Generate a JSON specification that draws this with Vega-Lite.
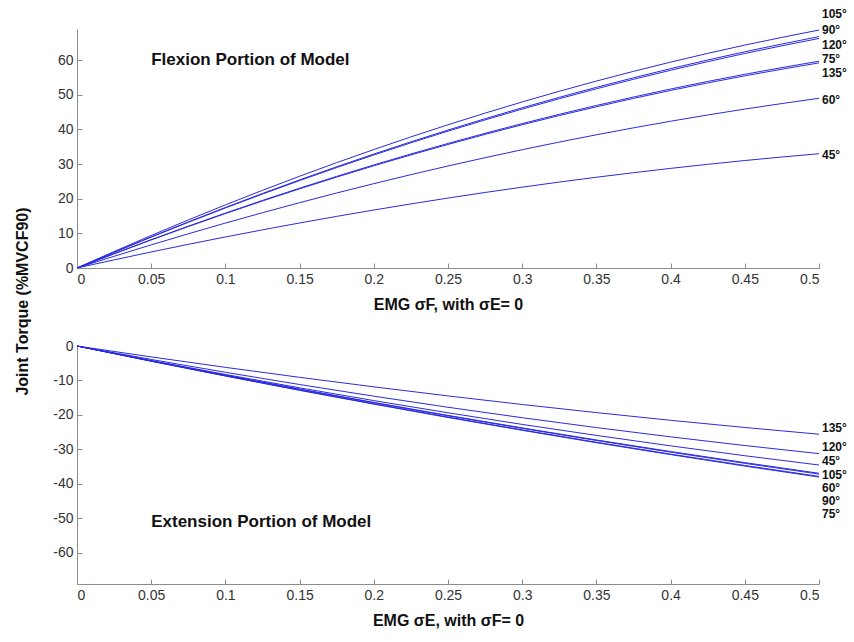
{
  "$schema": "https://vega.github.io/schema/vega-lite/v6.json",
  "background": "white",
  "padding": {"left": 14, "top": 8, "right": 2, "bottom": 2},
  "bounds": "flush",
  "spacing": 78,
  "config": {
    "view": {"stroke": null},
    "axis": {
      "domainColor": "#8c8c8c", "tickColor": "#8c8c8c", "tickSize": -5,
      "labelColor": "#333333", "labelFont": "Liberation Sans", "labelFontSize": 14,
      "titleFont": "Liberation Sans", "titleFontSize": 16, "titleFontWeight": "bold", "titleColor": "#111111",
      "grid": false, "labelPadding": 9, "labelOverlap": false
    },
    "text": {"font": "Liberation Sans", "color": "#111111"}
  },
  "datasets": {
    "flex": [
      {"angle": "105", "emg": 0, "torque": 0}, {"angle": "105", "emg": 0.05, "torque": 9.39}, {"angle": "105", "emg": 0.1, "torque": 18.22}, {"angle": "105", "emg": 0.15, "torque": 26.49}, {"angle": "105", "emg": 0.2, "torque": 34.2}, {"angle": "105", "emg": 0.25, "torque": 41.35}, {"angle": "105", "emg": 0.3, "torque": 47.94}, {"angle": "105", "emg": 0.35, "torque": 53.97}, {"angle": "105", "emg": 0.4, "torque": 59.44}, {"angle": "105", "emg": 0.45, "torque": 64.35}, {"angle": "105", "emg": 0.5, "torque": 68.7},
      {"angle": "90", "emg": 0, "torque": 0}, {"angle": "90", "emg": 0.05, "torque": 8.99}, {"angle": "90", "emg": 0.1, "torque": 17.47}, {"angle": "90", "emg": 0.15, "torque": 25.44}, {"angle": "90", "emg": 0.2, "torque": 32.89}, {"angle": "90", "emg": 0.25, "torque": 39.83}, {"angle": "90", "emg": 0.3, "torque": 46.25}, {"angle": "90", "emg": 0.35, "torque": 52.16}, {"angle": "90", "emg": 0.4, "torque": 57.55}, {"angle": "90", "emg": 0.45, "torque": 62.43}, {"angle": "90", "emg": 0.5, "torque": 66.8},
      {"angle": "120", "emg": 0, "torque": 0}, {"angle": "120", "emg": 0.05, "torque": 8.92}, {"angle": "120", "emg": 0.1, "torque": 17.33}, {"angle": "120", "emg": 0.15, "torque": 25.24}, {"angle": "120", "emg": 0.2, "torque": 32.63}, {"angle": "120", "emg": 0.25, "torque": 39.51}, {"angle": "120", "emg": 0.3, "torque": 45.88}, {"angle": "120", "emg": 0.35, "torque": 51.74}, {"angle": "120", "emg": 0.4, "torque": 57.09}, {"angle": "120", "emg": 0.45, "torque": 61.93}, {"angle": "120", "emg": 0.5, "torque": 66.27},
      {"angle": "75", "emg": 0, "torque": 0}, {"angle": "75", "emg": 0.05, "torque": 8.17}, {"angle": "75", "emg": 0.1, "torque": 15.85}, {"angle": "75", "emg": 0.15, "torque": 23.04}, {"angle": "75", "emg": 0.2, "torque": 29.75}, {"angle": "75", "emg": 0.25, "torque": 35.96}, {"angle": "75", "emg": 0.3, "torque": 41.69}, {"angle": "75", "emg": 0.35, "torque": 46.92}, {"angle": "75", "emg": 0.4, "torque": 51.67}, {"angle": "75", "emg": 0.45, "torque": 55.93}, {"angle": "75", "emg": 0.5, "torque": 59.7},
      {"angle": "135", "emg": 0, "torque": 0}, {"angle": "135", "emg": 0.05, "torque": 8.1}, {"angle": "135", "emg": 0.1, "torque": 15.72}, {"angle": "135", "emg": 0.15, "torque": 22.86}, {"angle": "135", "emg": 0.2, "torque": 29.51}, {"angle": "135", "emg": 0.25, "torque": 35.67}, {"angle": "135", "emg": 0.3, "torque": 41.36}, {"angle": "135", "emg": 0.35, "torque": 46.54}, {"angle": "135", "emg": 0.4, "torque": 51.26}, {"angle": "135", "emg": 0.45, "torque": 55.48}, {"angle": "135", "emg": 0.5, "torque": 59.22},
      {"angle": "60", "emg": 0, "torque": 0}, {"angle": "60", "emg": 0.05, "torque": 6.68}, {"angle": "60", "emg": 0.1, "torque": 12.97}, {"angle": "60", "emg": 0.15, "torque": 18.86}, {"angle": "60", "emg": 0.2, "torque": 24.35}, {"angle": "60", "emg": 0.25, "torque": 29.45}, {"angle": "60", "emg": 0.3, "torque": 34.15}, {"angle": "60", "emg": 0.35, "torque": 38.46}, {"angle": "60", "emg": 0.4, "torque": 42.37}, {"angle": "60", "emg": 0.45, "torque": 45.88}, {"angle": "60", "emg": 0.5, "torque": 49.0},
      {"angle": "45", "emg": 0, "torque": 0}, {"angle": "45", "emg": 0.05, "torque": 4.63}, {"angle": "45", "emg": 0.1, "torque": 8.96}, {"angle": "45", "emg": 0.15, "torque": 13.0}, {"angle": "45", "emg": 0.2, "torque": 16.74}, {"angle": "45", "emg": 0.25, "torque": 20.19}, {"angle": "45", "emg": 0.3, "torque": 23.34}, {"angle": "45", "emg": 0.35, "torque": 26.2}, {"angle": "45", "emg": 0.4, "torque": 28.76}, {"angle": "45", "emg": 0.45, "torque": 31.03}, {"angle": "45", "emg": 0.5, "torque": 33.0}
    ],
    "ext": [
      {"angle": "135", "emg": 0, "torque": 0}, {"angle": "135", "emg": 0.05, "torque": -3.16}, {"angle": "135", "emg": 0.1, "torque": -6.19}, {"angle": "135", "emg": 0.15, "torque": -9.08}, {"angle": "135", "emg": 0.2, "torque": -11.84}, {"angle": "135", "emg": 0.25, "torque": -14.47}, {"angle": "135", "emg": 0.3, "torque": -16.96}, {"angle": "135", "emg": 0.35, "torque": -19.31}, {"angle": "135", "emg": 0.4, "torque": -21.54}, {"angle": "135", "emg": 0.45, "torque": -23.62}, {"angle": "135", "emg": 0.5, "torque": -25.58},
      {"angle": "120", "emg": 0, "torque": 0}, {"angle": "120", "emg": 0.05, "torque": -3.9}, {"angle": "120", "emg": 0.1, "torque": -7.62}, {"angle": "120", "emg": 0.15, "torque": -11.17}, {"angle": "120", "emg": 0.2, "torque": -14.55}, {"angle": "120", "emg": 0.25, "torque": -17.76}, {"angle": "120", "emg": 0.3, "torque": -20.79}, {"angle": "120", "emg": 0.35, "torque": -23.65}, {"angle": "120", "emg": 0.4, "torque": -26.34}, {"angle": "120", "emg": 0.45, "torque": -28.86}, {"angle": "120", "emg": 0.5, "torque": -31.2},
      {"angle": "45", "emg": 0, "torque": 0}, {"angle": "45", "emg": 0.05, "torque": -4.21}, {"angle": "45", "emg": 0.1, "torque": -8.25}, {"angle": "45", "emg": 0.15, "torque": -12.12}, {"angle": "45", "emg": 0.2, "torque": -15.83}, {"angle": "45", "emg": 0.25, "torque": -19.36}, {"angle": "45", "emg": 0.3, "torque": -22.73}, {"angle": "45", "emg": 0.35, "torque": -25.92}, {"angle": "45", "emg": 0.4, "torque": -28.95}, {"angle": "45", "emg": 0.45, "torque": -31.81}, {"angle": "45", "emg": 0.5, "torque": -34.5},
      {"angle": "105", "emg": 0, "torque": 0}, {"angle": "105", "emg": 0.05, "torque": -4.29}, {"angle": "105", "emg": 0.1, "torque": -8.45}, {"angle": "105", "emg": 0.15, "torque": -12.48}, {"angle": "105", "emg": 0.2, "torque": -16.36}, {"angle": "105", "emg": 0.25, "torque": -20.12}, {"angle": "105", "emg": 0.3, "torque": -23.74}, {"angle": "105", "emg": 0.35, "torque": -27.24}, {"angle": "105", "emg": 0.4, "torque": -30.59}, {"angle": "105", "emg": 0.45, "torque": -33.81}, {"angle": "105", "emg": 0.5, "torque": -36.9},
      {"angle": "60", "emg": 0, "torque": 0}, {"angle": "60", "emg": 0.05, "torque": -4.32}, {"angle": "60", "emg": 0.1, "torque": -8.5}, {"angle": "60", "emg": 0.15, "torque": -12.55}, {"angle": "60", "emg": 0.2, "torque": -16.46}, {"angle": "60", "emg": 0.25, "torque": -20.25}, {"angle": "60", "emg": 0.3, "torque": -23.89}, {"angle": "60", "emg": 0.35, "torque": -27.4}, {"angle": "60", "emg": 0.4, "torque": -30.78}, {"angle": "60", "emg": 0.45, "torque": -34.02}, {"angle": "60", "emg": 0.5, "torque": -37.13},
      {"angle": "90", "emg": 0, "torque": 0}, {"angle": "90", "emg": 0.05, "torque": -4.39}, {"angle": "90", "emg": 0.1, "torque": -8.66}, {"angle": "90", "emg": 0.15, "torque": -12.78}, {"angle": "90", "emg": 0.2, "torque": -16.76}, {"angle": "90", "emg": 0.25, "torque": -20.61}, {"angle": "90", "emg": 0.3, "torque": -24.32}, {"angle": "90", "emg": 0.35, "torque": -27.9}, {"angle": "90", "emg": 0.4, "torque": -31.34}, {"angle": "90", "emg": 0.45, "torque": -34.63}, {"angle": "90", "emg": 0.5, "torque": -37.8},
      {"angle": "75", "emg": 0, "torque": 0}, {"angle": "75", "emg": 0.05, "torque": -4.42}, {"angle": "75", "emg": 0.1, "torque": -8.7}, {"angle": "75", "emg": 0.15, "torque": -12.85}, {"angle": "75", "emg": 0.2, "torque": -16.85}, {"angle": "75", "emg": 0.25, "torque": -20.72}, {"angle": "75", "emg": 0.3, "torque": -24.44}, {"angle": "75", "emg": 0.35, "torque": -28.04}, {"angle": "75", "emg": 0.4, "torque": -31.49}, {"angle": "75", "emg": 0.45, "torque": -34.81}, {"angle": "75", "emg": 0.5, "torque": -38.0}
    ],
    "flexLabels": [
      {"label": "105°", "emg": 0.5, "torque": 73.3},
      {"label": "90°", "emg": 0.5, "torque": 68.7},
      {"label": "120°", "emg": 0.5, "torque": 64.3},
      {"label": "75°", "emg": 0.5, "torque": 60.2},
      {"label": "135°", "emg": 0.5, "torque": 56.3},
      {"label": "60°", "emg": 0.5, "torque": 48.4},
      {"label": "45°", "emg": 0.5, "torque": 32.7}
    ],
    "extLabels": [
      {"label": "135°", "emg": 0.5, "torque": -23.8},
      {"label": "120°", "emg": 0.5, "torque": -29.3},
      {"label": "45°", "emg": 0.5, "torque": -33.2},
      {"label": "105°", "emg": 0.5, "torque": -37.4},
      {"label": "60°", "emg": 0.5, "torque": -41.2},
      {"label": "90°", "emg": 0.5, "torque": -44.9},
      {"label": "75°", "emg": 0.5, "torque": -48.7}
    ],
    "flexTitle": [{"label": "Flexion Portion of Model", "emg": 0.05, "torque": 60}],
    "extTitle": [{"label": "Extension Portion of Model", "emg": 0.05, "torque": -51}]
  },
  "vconcat": [
    {
      "width": 742,
      "height": 239,
      "encoding": {
        "x": {"field": "emg", "type": "quantitative", "scale": {"domain": [0, 0.5], "nice": false},
              "axis": {"values": [0, 0.05, 0.1, 0.15, 0.2, 0.25, 0.3, 0.35, 0.4, 0.45, 0.5], "format": ".2~f",
                       "title": "EMG σF, with σE= 0", "titlePadding": 10}},
        "y": {"field": "torque", "type": "quantitative", "scale": {"domain": [0, 69], "nice": false, "zero": false},
              "axis": {"values": [0, 10, 20, 30, 40, 50, 60], "title": "Joint Torque (%MVCF90)",
                       "titleX": -55, "titleY": 272, "titleAlign": "center", "titleBaseline": "middle", "titleAngle": 270}}
      },
      "layer": [
        {
          "data": {"name": "flex"},
          "mark": {"type": "line", "color": "#2a2ae0", "strokeWidth": 1, "interpolate": "monotone"},
          "encoding": {"detail": {"field": "angle"}}
        },
        {
          "data": {"name": "flexLabels"},
          "mark": {"type": "text", "align": "left", "baseline": "middle", "dx": 3, "fontWeight": "bold", "fontSize": 12},
          "encoding": {"text": {"field": "label"}}
        },
        {
          "data": {"name": "flexTitle"},
          "mark": {"type": "text", "align": "left", "baseline": "middle", "fontWeight": "bold", "fontSize": 17},
          "encoding": {"text": {"field": "label"}}
        }
      ]
    },
    {
      "width": 742,
      "height": 238,
      "encoding": {
        "x": {"field": "emg", "type": "quantitative", "scale": {"domain": [0, 0.5], "nice": false},
              "axis": {"values": [0, 0.05, 0.1, 0.15, 0.2, 0.25, 0.3, 0.35, 0.4, 0.45, 0.5], "format": ".2~f",
                       "title": "EMG σE, with σF= 0", "titlePadding": 10}},
        "y": {"field": "torque", "type": "quantitative", "scale": {"domain": [-69, 0], "nice": false, "zero": false},
              "axis": {"values": [0, -10, -20, -30, -40, -50, -60], "title": null,
                       "labelExpr": "datum.value < 0 ? '-' + abs(datum.value) : '' + datum.value"}}
      },
      "layer": [
        {
          "data": {"name": "ext"},
          "mark": {"type": "line", "color": "#2a2ae0", "strokeWidth": 1, "interpolate": "monotone"},
          "encoding": {"detail": {"field": "angle"}}
        },
        {
          "data": {"name": "extLabels"},
          "mark": {"type": "text", "align": "left", "baseline": "middle", "dx": 3, "fontWeight": "bold", "fontSize": 12},
          "encoding": {"text": {"field": "label"}}
        },
        {
          "data": {"name": "extTitle"},
          "mark": {"type": "text", "align": "left", "baseline": "middle", "fontWeight": "bold", "fontSize": 17},
          "encoding": {"text": {"field": "label"}}
        }
      ]
    }
  ]
}
